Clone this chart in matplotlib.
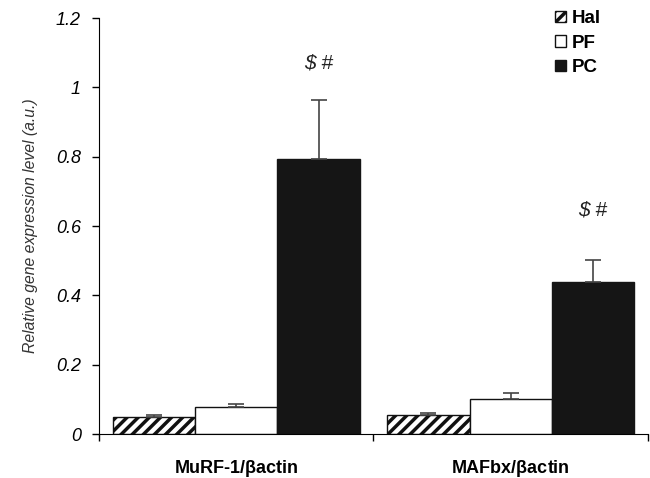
import matplotlib
matplotlib.use("Agg")
import matplotlib.pyplot as plt
import numpy as np
from matplotlib.patches import Patch

categories = ["MuRF-1/$\\mathregular{\\beta}$actin", "MAFbx/$\\mathregular{\\beta}$actin"]
groups = ["Hal", "PF", "PC"]
hal = [0.048, 0.055]
pf = [0.077, 0.102]
pc = [0.795, 0.440]
hal_err = [0.007, 0.007]
pf_err = [0.010, 0.015]
pc_err = [0.170, 0.062]
marks = ["$ #", "$ #"]
mark_y = [1.07, 0.645]

plt.rcParams["font.family"] = ["Liberation Sans", "DejaVu Sans"]
plt.rcParams["hatch.linewidth"] = 2.5

fig = plt.figure(figsize=(6.5, 4.78), dpi=100)
ax = fig.add_axes([0.152, 0.092, 0.845, 0.870])

x = np.arange(len(categories))
w = 0.3
styles = [
    dict(facecolor="white", hatch="///", edgecolor="#111111"),
    dict(facecolor="white", edgecolor="#111111"),
    dict(facecolor="#151515", edgecolor="#151515"),
]
for i, (vals, errs) in enumerate([(hal, hal_err), (pf, pf_err), (pc, pc_err)]):
    ax.bar(x + (i - 1) * w, vals, w, linewidth=1.0, **styles[i],
           yerr=[np.zeros(len(errs)), errs],
           error_kw=dict(ecolor="#444444", elinewidth=1.2, capsize=6, capthick=1.2))

for xi, t, yy in zip(x + w, marks, mark_y):
    ax.text(xi, yy, t, ha="center", va="center", fontsize=15, style="italic",
            color="#222222", parse_math=False)

ax.set_xlim(-0.5, 1.5)
ax.set_ylim(0, 1.2)
ax.set_yticks([0, 0.2, 0.4, 0.6, 0.8, 1.0, 1.2], ["0", "0.2", "0.4", "0.6", "0.8", "1", "1.2"])
ax.set_xticks([-0.5, 0.5, 1.5], ["", "", ""])
ax.set_xticks(x, categories, minor=True)
ax.tick_params(axis="x", which="minor", length=0, pad=17, labelsize=13)
ax.tick_params(axis="x", which="major", direction="out", length=5, width=1)
ax.tick_params(axis="y", direction="out", length=5, width=1, pad=8, labelsize=13)
for lab in ax.get_yticklabels():
    lab.set_fontstyle("italic")
for lab in ax.get_xticklabels(minor=True):
    lab.set_fontweight("bold")
ax.spines["top"].set_visible(False)
ax.spines["right"].set_visible(False)
ax.set_ylabel("Relative gene expression level (a.u.)", fontsize=11.3, style="italic",
              color="#333333", labelpad=13)

handles = [Patch(facecolor="white", edgecolor="#111111", hatch="///"),
           Patch(facecolor="white", edgecolor="#111111"),
           Patch(facecolor="#151515", edgecolor="#151515")]
leg = ax.legend(handles, groups, loc="upper left", bbox_to_anchor=(0.80, 1.06), frameon=False,
                handlelength=0.6, handleheight=0.6, handletextpad=0.3, labelspacing=0.4,
                prop=dict(weight="bold", size=13.5))

fig.savefig("out.png", dpi=100)
